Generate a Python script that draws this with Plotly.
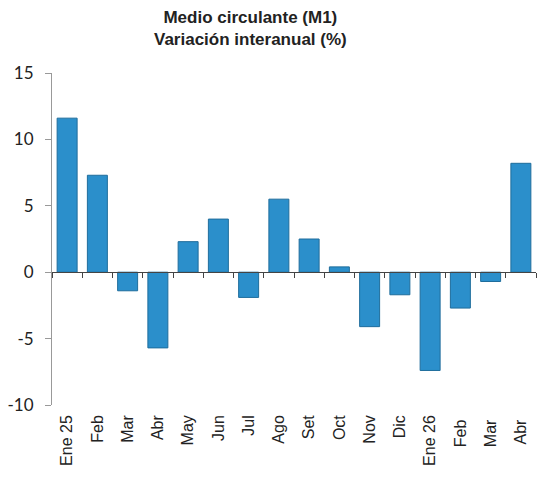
import plotly.graph_objects as go

categories = ["Ene 25", "Feb", "Mar", "Abr", "May", "Jun", "Jul", "Ago", "Set", "Oct",
              "Nov", "Dic", "Ene 26", "Feb ", "Mar ", "Abr "]
values = [11.6, 7.3, -1.4, -5.7, 2.3, 4.0, -1.9, 5.5, 2.5, 0.4,
          -4.1, -1.7, -7.4, -2.7, -0.7, 8.2]
y_ticks = [-10, -5, 0, 5, 10, 15]
y_ticktext = ["-10", "-5", "0", "5", "10", "15"]
y_range = [-10, 15]
x_range = [-0.5, len(categories) - 0.5]
title_text = "<b>Medio circulante (M1)</b><br><b>Variación interanual (%)</b>"

W, H = 537, 478
L, R, T, B = 52, 1, 73, 73
plot_w, plot_h = W - L - R, H - T - B

fig = go.Figure()
fig.add_trace(go.Bar(
    x=categories, y=values,
    marker=dict(color="#2B8FCB", line=dict(color="#1F6D9C", width=1)),
    xaxis="x", yaxis="y", showlegend=False,
))
# helper trace so the zero-line category axis is drawn
fig.add_trace(go.Scatter(
    x=categories, y=[0] * len(categories), mode="lines",
    line=dict(width=0), opacity=0, hoverinfo="skip", showlegend=False,
    xaxis="x2", yaxis="y",
))

zero_pos = (0 - y_range[0]) / (y_range[1] - y_range[0])

fig.add_annotation(
    text=title_text, showarrow=False,
    xref="paper", yref="paper",
    x=(250 - L) / plot_w, y=1 + (T - 6) / plot_h,
    xanchor="center", yanchor="top", align="center",
    font=dict(family="Liberation Sans, Arial", size=17, color="#222"),
)

fig.update_layout(
    width=W, height=H,
    margin=dict(l=L, r=R, t=T, b=B, autoexpand=False),
    paper_bgcolor="white", plot_bgcolor="white",
    bargap=0.34,
    xaxis=dict(
        type="category", range=x_range, showline=False, ticks="", showgrid=False,
        tickangle=-90, ticklabelstandoff=6, automargin=False,
        tickfont=dict(family="Liberation Sans, Arial", size=16, color="#222"),
    ),
    xaxis2=dict(
        type="category", overlaying="x", range=x_range, anchor="free", position=zero_pos,
        showline=True, linecolor="#444", linewidth=1, automargin=False,
        ticks="outside", tickson="boundaries", ticklen=5, tickcolor="#444",
        showticklabels=False, showgrid=False, side="bottom",
    ),
    yaxis=dict(
        range=y_range, tickvals=y_ticks, ticktext=y_ticktext, showgrid=False, zeroline=False,
        showline=True, linecolor="#999", linewidth=1, automargin=False,
        ticks="outside", ticklen=6, tickcolor="#999", ticklabelstandoff=8,
        tickfont=dict(family="Lato, Noto Sans", size=17, color="#222"),
    ),
)

fig.write_html("out.html", config={"displayModeBar": False},
               post_script="document.body.style.margin='0';document.body.style.padding='0';")
